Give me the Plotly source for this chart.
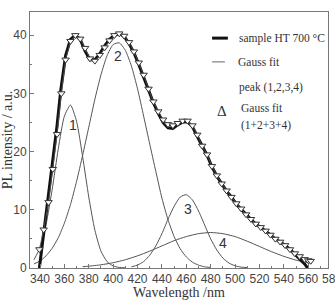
import plotly.graph_objects as go

# ---- data ----
sample_wl = [339.5, 343, 347, 350, 354, 357, 361, 365, 369, 373, 377, 381, 385, 389, 393, 397,
             401, 405, 409, 413, 417, 421, 425, 429, 433, 437, 441, 445, 449, 453, 457, 461,
             465, 469, 473, 477, 481, 485, 489, 493, 497, 501, 505, 509, 513, 517, 521, 525,
             529, 533, 537, 541, 545, 549, 553, 557, 559.5]
sample_int = [0.0, 6.0, 12.0, 17.5, 24.5, 30.5, 36.5, 39.3, 40.0, 39.3, 37.3, 35.8, 35.8, 36.8, 38.2, 39.3,
              40.0, 40.3, 39.8, 38.6, 37.0, 35.0, 32.8, 30.5, 28.4, 26.6, 25.0, 24.1, 24.0, 24.6, 25.1, 25.1,
              24.3, 22.6, 20.9, 19.4, 17.4, 15.8, 14.5, 13.2, 12.2, 11.0, 10.1, 9.2, 8.3, 7.5, 7.0, 6.4,
              5.7, 5.0, 4.5, 3.9, 3.2, 2.4, 1.6, 0.7, 0.0]

fit_wl = [339.5, 343, 347, 350.5, 354, 357.5, 361, 365, 369, 373, 377, 381, 385, 389, 393, 397,
          401, 405, 409, 413, 417, 421, 425, 429, 433, 437, 441, 445, 449, 453, 457, 461,
          465, 469, 473, 477, 481, 485, 489, 493, 497, 501, 505, 509, 513, 517, 521, 525,
          529, 533, 537, 541, 545, 549, 553, 557, 560, 562]
fit_int = [3.2, 6.6, 11.3, 17.0, 23.0, 30.0, 35.8, 39.0, 40.0, 39.4, 37.8, 36.0, 35.6, 36.6, 37.9, 39.1,
           40.0, 40.3, 39.9, 38.8, 37.2, 35.3, 33.2, 30.8, 28.6, 26.9, 25.5, 24.7, 24.5, 24.9, 25.3, 25.3,
           24.5, 22.9, 21.0, 19.5, 17.5, 15.9, 14.5, 13.3, 12.2, 11.1, 10.2, 9.2, 8.4, 7.6, 7.0, 6.4,
           5.7, 5.0, 4.5, 3.9, 3.2, 2.5, 2.0, 1.5, 1.3, 1.2]

peak1_wl = [335, 340, 345, 350, 355, 360, 365, 370, 375, 380, 385, 390, 395, 400, 405, 410]
peak1_int = [1.4, 3.5, 7.5, 13.5, 20.5, 26.1, 28.0, 25.2, 19.1, 12.2, 6.5, 2.9, 1.1, 0.35, 0.1, 0.03]

peak2_wl = [335, 340, 345, 350, 355, 360, 365, 370, 375, 380, 385, 390, 395, 400, 405, 410, 415,
            420, 425, 430, 435, 440, 445, 450, 455, 460, 465, 470, 475, 480]
peak2_int = [0.7, 1.2, 2.1, 3.4, 5.2, 7.7, 10.9, 14.9, 19.4, 24.2, 29.0, 33.2, 36.5, 38.4, 38.7, 37.4, 34.7,
             30.8, 26.1, 21.3, 16.6, 12.0, 8.3, 5.4, 3.3, 1.9, 1.0, 0.5, 0.2, 0.1]

peak3_wl = [415, 420, 425, 430, 435, 440, 445, 450, 455, 460, 465, 470, 475, 480, 485, 490, 495, 500, 505, 510]
peak3_int = [0.2, 0.5, 1.1, 2.2, 3.8, 5.9, 8.4, 10.6, 12.2, 12.6, 11.7, 9.8, 7.4, 5.0, 3.1, 1.7, 0.85, 0.38, 0.15, 0.05]

peak4_wl = [375, 380, 390, 400, 410, 420, 430, 440, 450, 460, 470, 480, 490, 500, 510, 520, 530, 540, 550, 560, 563]
peak4_int = [0.23, 0.31, 0.55, 0.91, 1.42, 2.09, 2.9, 3.8, 4.7, 5.4, 5.9, 6.1, 5.9, 5.4, 4.6, 3.7, 2.8, 2.0, 1.35, 0.9, 0.8]

peak_labels = ["1", "2", "3", "4"]
peak_label_wl = [367, 404, 461.5, 490]
peak_label_int = [24.6, 36.5, 10.1, 4.3]

x_ticks = list(range(340, 580, 20))
x_range = [331.8, 576.2]
y_range = [0, 44]

# ---- figure ----
fig = go.Figure()
thin = dict(color="#555555", width=1)
for wl, val in [(peak1_wl, peak1_int), (peak2_wl, peak2_int), (peak3_wl, peak3_int), (peak4_wl, peak4_int)]:
    fig.add_trace(go.Scatter(x=wl, y=val, mode="lines", line=dict(shape="spline", smoothing=0.6, **thin),
                             showlegend=False, hoverinfo="skip"))

fig.add_trace(go.Scatter(x=sample_wl, y=sample_int, mode="lines",
                         line=dict(color="#111111", width=3), showlegend=False))
fig.add_trace(go.Scatter(x=fit_wl, y=fit_int, mode="lines+markers",
                         line=dict(color="#555555", width=0.8),
                         marker=dict(symbol="triangle-down", size=6.5, color="white",
                                     line=dict(color="#333333", width=1)),
                         showlegend=False))

for t, xv, yv in zip(peak_labels, peak_label_wl, peak_label_int):
    fig.add_annotation(x=xv, y=yv, text=t, showarrow=False,
                       font=dict(family="Liberation Sans", size=14, color="#333333"))

serif = "Liberation Serif"
lg = dict(color="#333333", family=serif, size=11.5)
# legend (manual)
fig.add_shape(type="line", xref="paper", yref="paper", x0=0.611, x1=0.664, y0=0.898, y1=0.898,
              line=dict(color="#111111", width=3))
fig.add_annotation(xref="paper", yref="paper", x=0.695, y=0.898, xanchor="left", yanchor="middle",
                   text="sample HT 700 °C", showarrow=False, font=lg)
fig.add_shape(type="line", xref="paper", yref="paper", x0=0.611, x1=0.654, y0=0.805, y1=0.805,
              line=dict(color="#666666", width=1))
fig.add_annotation(xref="paper", yref="paper", x=0.692, y=0.805, xanchor="left", yanchor="middle",
                   text="Gauss fit", showarrow=False, font=lg)
fig.add_annotation(xref="paper", yref="paper", x=0.695, y=0.707, xanchor="left", yanchor="middle",
                   text="peak (1,2,3,4)", showarrow=False, font=lg)
fig.add_annotation(xref="paper", yref="paper", x=0.644, y=0.615, xanchor="center", yanchor="middle",
                   text="Δ", showarrow=False, font=dict(color="#333333", family=serif, size=15))
fig.add_annotation(xref="paper", yref="paper", x=0.703, y=0.625, xanchor="left", yanchor="middle",
                   text="Gauss fit", showarrow=False, font=lg)
fig.add_annotation(xref="paper", yref="paper", x=0.703, y=0.555, xanchor="left", yanchor="middle",
                   text="(1+2+3+4)", showarrow=False, font=lg)

# the 580 label is cut by the picture edge in the reference: only "58" is visible
fig.add_annotation(xref="paper", yref="paper", x=0.972, y=0, xanchor="left",
                   yanchor="top", yshift=-2, text="58", showarrow=False,
                   font=dict(family="Liberation Sans", size=12, color="#444444"))

axis_common = dict(showline=True, linecolor="#777777", linewidth=1, mirror=True, automargin=False,
                   ticks="inside", ticklen=4, tickcolor="#777777", showgrid=False, zeroline=False,
                   tickfont=dict(family="Liberation Sans", size=12, color="#444444"))
fig.update_xaxes(range=x_range, tickvals=x_ticks, ticktext=[str(v) for v in x_ticks],
                 minor=dict(dtick=10, tick0=340, ticks="inside", ticklen=2, tickcolor="#777777"),
                 title=dict(text="Wavelength /nm", font=dict(family=serif, size=14, color="#333333"), standoff=3),
                 **axis_common)
fig.update_yaxes(range=y_range, tickvals=[0, 10, 20, 30, 40],
                 minor=dict(dtick=5, tick0=0, ticks="inside", ticklen=2, tickcolor="#777777"),
                 title=dict(text="PL intensity / a.u.", font=dict(family=serif, size=14, color="#333333"), standoff=2),
                 **axis_common)
fig.update_layout(width=335, height=300, margin=dict(l=30, r=7, t=12, b=32),
                  paper_bgcolor="white", plot_bgcolor="white", showlegend=False)
fig.write_html("out.html")
